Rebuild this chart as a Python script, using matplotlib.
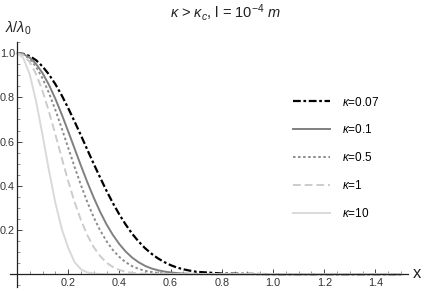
import matplotlib
matplotlib.use('Agg')
import matplotlib.pyplot as plt
from matplotlib.ticker import MultipleLocator, FixedLocator, FormatStrFormatter

plt.rcParams['font.family'] = ['Liberation Sans', 'DejaVu Sans']
plt.rcParams['mathtext.fontset'] = 'custom'
plt.rcParams['mathtext.rm'] = 'Liberation Sans'
plt.rcParams['mathtext.it'] = 'Liberation Sans:italic'

# values
x_vals = [0, 0.025, 0.05, 0.075, 0.1, 0.125, 0.15, 0.175, 0.2, 0.225, 0.25,
          0.275, 0.3, 0.325, 0.35, 0.375, 0.4, 0.425, 0.45, 0.475, 0.5,
          0.525, 0.55, 0.575, 0.6, 0.625, 0.65, 0.675, 0.7, 0.8, 1.0, 1.5]

k007 = [1.0, 0.997, 0.987, 0.968, 0.940, 0.904, 0.860, 0.809, 0.752, 0.691, 0.628,
        0.563, 0.499, 0.437, 0.377, 0.321, 0.270, 0.224, 0.183, 0.148, 0.118,
        0.093, 0.072, 0.055, 0.041, 0.030, 0.022, 0.016, 0.011, 0.003, 0.0, 0.0]
k01 = [1.0, 0.996, 0.980, 0.951, 0.910, 0.857, 0.794, 0.723, 0.647, 0.569, 0.491,
       0.416, 0.346, 0.282, 0.225, 0.177, 0.136, 0.102, 0.075, 0.054, 0.038,
       0.026, 0.018, 0.012, 0.008, 0.005, 0.003, 0.002, 0.001, 0.0, 0.0, 0.0]
k05 = [1.0, 0.994, 0.974, 0.938, 0.886, 0.820, 0.744, 0.660, 0.573, 0.486, 0.403,
       0.326, 0.257, 0.198, 0.149, 0.109, 0.078, 0.054, 0.036, 0.024, 0.015,
       0.010, 0.006, 0.003, 0.002, 0.001, 0.0, 0.0, 0.0, 0.0, 0.0, 0.0]
k1 = [1.0, 0.991, 0.960, 0.905, 0.829, 0.736, 0.633, 0.526, 0.422, 0.327, 0.245,
      0.176, 0.122, 0.082, 0.052, 0.032, 0.019, 0.011, 0.006, 0.003, 0.002,
      0.001, 0.0, 0.0, 0.0, 0.0, 0.0, 0.0, 0.0, 0.0, 0.0, 0.0]
k10 = [1.0, 0.978, 0.904, 0.782, 0.630, 0.470, 0.324, 0.205, 0.120, 0.055, 0.022,
       0.008, 0.003, 0.001, 0.0, 0.0, 0.0, 0.0, 0.0, 0.0, 0.0,
       0.0, 0.0, 0.0, 0.0, 0.0, 0.0, 0.0, 0.0, 0.0, 0.0, 0.0]

labels = [r'$\it{\kappa}$=0.07', r'$\it{\kappa}$=0.1', r'$\it{\kappa}$=0.5',
          r'$\it{\kappa}$=1', r'$\it{\kappa}$=10']

fig = plt.figure(figsize=(4.25, 2.92), dpi=100)
ax = fig.add_axes([10/425, (292-287)/292, 398/425, (287-41.7)/292])

ax.plot(x_vals, k007, color='black', lw=1.6, dashes=(3.5, 1.2, 1.2, 1.2), label=labels[0])
ax.plot(x_vals, k01, color='#808080', lw=1.4, label=labels[1])
ax.plot(x_vals, k05, color='#8c8c8c', lw=1.4, dashes=(1.3, 1.3), label=labels[2])
ax.plot(x_vals, k1, color='#cccccc', lw=1.4, dashes=(4, 2), label=labels[3])
ax.plot(x_vals, k10, color='#d9d9d9', lw=1.4, label=labels[4])

ax.set_xlim(-0.027, 1.527)
ax.set_ylim(-0.058, 1.052)

for s in ['top', 'right']:
    ax.spines[s].set_visible(False)
ax.spines['left'].set_position(('data', 0))
ax.spines['bottom'].set_position(('data', 0))
for s in ['left', 'bottom']:
    ax.spines[s].set_linewidth(0.9)
    ax.spines[s].set_color('#222222')

ax.xaxis.set_major_locator(FixedLocator([0.2, 0.4, 0.6, 0.8, 1.0, 1.2, 1.4]))
ax.yaxis.set_major_locator(FixedLocator([0.2, 0.4, 0.6, 0.8, 1.0]))
ax.xaxis.set_minor_locator(MultipleLocator(0.05))
ax.yaxis.set_minor_locator(MultipleLocator(0.05))
ax.tick_params(which='major', direction='in', length=3.5, width=0.7,
               labelsize=7.8, labelcolor='#333333', color='#444444')
ax.tick_params(which='minor', direction='in', length=2, width=0.5, color='#666666')
ax.xaxis.set_major_formatter(FormatStrFormatter('%.1f'))
ax.yaxis.set_major_formatter(FormatStrFormatter('%.1f'))
ax.tick_params(axis='x', pad=3)
ax.tick_params(axis='y', pad=1.5)

fig.text(225/425, 1 - 12/292, r'$\it{\kappa}$ > $\it{\kappa}_c$, l = 10$^{-4}$ $\it{m}$',
         ha='center', va='center', fontsize=10.5, color='#222222')
fig.text(5/425, 1 - 28/292, r'$\lambda/\lambda_0$', ha='left', va='center',
         fontsize=10.5, color='#222222')
fig.text(413/425, 1 - 273/292, 'x', ha='left', va='center', fontsize=12, color='#222222')

leg = ax.legend(loc='upper left', bbox_to_anchor=(282/425, 1 - 85/292),
                bbox_transform=fig.transFigure, frameon=False, fontsize=8.5,
                handlelength=3.2, labelspacing=1.25, handletextpad=1.0)

fig.savefig('out.png', dpi=100)
